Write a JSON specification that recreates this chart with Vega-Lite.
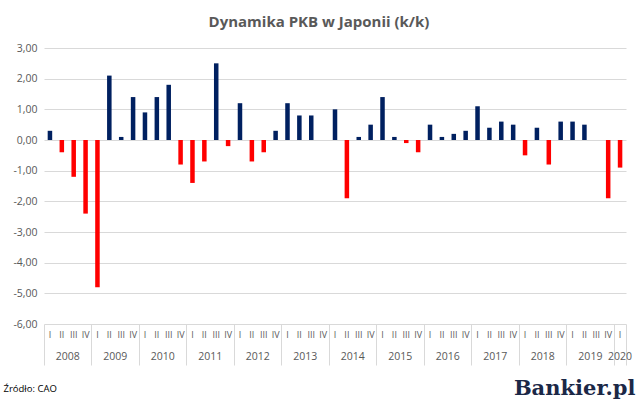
{
  "$schema": "https://vega.github.io/schema/vega-lite/v6.json",
  "width": 582,
  "height": 276,
  "autosize": {"type": "none"},
  "padding": {"left": 44, "top": 48, "right": 14, "bottom": 85},
  "background": "white",
  "config": {
    "view": {"stroke": null},
    "font": "Open Sans"
  },
  "title": {
    "text": "Dynamika PKB w Japonii (k/k)",
    "font": "Open Sans",
    "fontSize": 15,
    "fontWeight": "bold",
    "color": "#595959",
    "anchor": "middle",
    "frame": "group",
    "dx": -16,
    "offset": 13
  },
  "data": {
    "values": [
      {"q": "2008-1", "value": 0.3}, {"q": "2008-2", "value": -0.4}, {"q": "2008-3", "value": -1.2}, {"q": "2008-4", "value": -2.4},
      {"q": "2009-1", "value": -4.8}, {"q": "2009-2", "value": 2.1}, {"q": "2009-3", "value": 0.1}, {"q": "2009-4", "value": 1.4},
      {"q": "2010-1", "value": 0.9}, {"q": "2010-2", "value": 1.4}, {"q": "2010-3", "value": 1.8}, {"q": "2010-4", "value": -0.8},
      {"q": "2011-1", "value": -1.4}, {"q": "2011-2", "value": -0.7}, {"q": "2011-3", "value": 2.5}, {"q": "2011-4", "value": -0.2},
      {"q": "2012-1", "value": 1.2}, {"q": "2012-2", "value": -0.7}, {"q": "2012-3", "value": -0.4}, {"q": "2012-4", "value": 0.3},
      {"q": "2013-1", "value": 1.2}, {"q": "2013-2", "value": 0.8}, {"q": "2013-3", "value": 0.8}, {"q": "2013-4", "value": 0.0},
      {"q": "2014-1", "value": 1.0}, {"q": "2014-2", "value": -1.9}, {"q": "2014-3", "value": 0.1}, {"q": "2014-4", "value": 0.5},
      {"q": "2015-1", "value": 1.4}, {"q": "2015-2", "value": 0.1}, {"q": "2015-3", "value": -0.1}, {"q": "2015-4", "value": -0.4},
      {"q": "2016-1", "value": 0.5}, {"q": "2016-2", "value": 0.1}, {"q": "2016-3", "value": 0.2}, {"q": "2016-4", "value": 0.3},
      {"q": "2017-1", "value": 1.1}, {"q": "2017-2", "value": 0.4}, {"q": "2017-3", "value": 0.6}, {"q": "2017-4", "value": 0.5},
      {"q": "2018-1", "value": -0.5}, {"q": "2018-2", "value": 0.4}, {"q": "2018-3", "value": -0.8}, {"q": "2018-4", "value": 0.6},
      {"q": "2019-1", "value": 0.6}, {"q": "2019-2", "value": 0.5}, {"q": "2019-3", "value": 0.0}, {"q": "2019-4", "value": -1.9},
      {"q": "2020-1", "value": -0.9}
    ]
  },
  "layer": [
    {
      "mark": {"type": "bar", "width": {"band": 0.38}},
      "encoding": {
        "x": {
          "field": "q",
          "type": "nominal",
          "sort": "ascending",
          "scale": {"paddingInner": 0, "paddingOuter": 0},
          "axis": {
            "orient": "bottom",
            "title": "Bankier.pl",
            "titleFont": "DejaVu Serif",
            "titleFontSize": 21,
            "titleFontWeight": "bold",
            "titleColor": "#1b2847",
            "titleAnchor": "end",
            "titleAlign": "right",
            "titleBaseline": "middle",
            "titleX": 591,
            "titleY": 64,
            "bandPosition": 0,
            "domain": false,
            "grid": false,
            "ticks": true,
            "tickSize": 41,
            "tickColor": {"condition": {"test": "datum.value == '2008-1'", "value": "#d9d9d9"}, "value": "transparent"},
            "labelPadding": -35,
            "labelOffset": 0,
            "labelAngle": 0,
            "labelOverlap": false,
            "labelFontSize": 9,
            "labelColor": "#595959",
            "labelExpr": "substring(datum.value,5)=='1' ? 'I' : substring(datum.value,5)=='2' ? 'II' : substring(datum.value,5)=='3' ? 'III' : 'IV'"
          }
        },
        "y": {
          "field": "value",
          "type": "quantitative",
          "scale": {"domain": [-6, 3], "nice": false},
          "axis": {
            "title": null,
            "values": [-6, -5, -4, -3, -2, -1, 0, 1, 2, 3],
            "domain": false,
            "ticks": false,
            "labelPadding": 7,
            "labelFontSize": 10.5,
            "labelColor": "#595959",
            "gridColor": "#d9d9d9",
            "gridWidth": 1,
            "labelExpr": "replace(replace(format(datum.value, '.2f'), '.', ','), '\u2212', '-')"
          }
        },
        "color": {
          "condition": {"test": "datum.value >= 0", "value": "#002060"},
          "value": "#ff0000"
        }
      }
    },
    {
      "mark": {"type": "bar", "opacity": 0, "width": {"band": 0.38}},
      "encoding": {
        "x": {
          "field": "q",
          "type": "nominal",
          "sort": "ascending",
          "axis": {
            "orient": "bottom",
            "title": "Źródło: CAO",
            "titleFontSize": 9.5,
            "titleFontWeight": "normal",
            "titleColor": "#000000",
            "titleAnchor": "start",
            "titleAlign": "left",
            "titleBaseline": "middle",
            "titleX": -41,
            "titleY": 64,
            "bandPosition": 1,
            "domain": false,
            "grid": false,
            "ticks": true,
            "tickSize": 41,
            "tickColor": {"condition": {"test": "substring(datum.value,5)=='4' || datum.value=='2020-1'", "value": "#d9d9d9"}, "value": "transparent"},
            "labelPadding": -14,
            "labelOffset": {"condition": {"test": "datum.value == '2020-1'", "value": 0}, "value": 5.94},
            "labelAngle": 0,
            "labelOverlap": false,
            "labelFontSize": 10.5,
            "labelColor": "#595959",
            "labelExpr": "(substring(datum.value,5)=='2' || datum.value=='2020-1') ? substring(datum.value,0,4) : ''"
          }
        },
        "y": {
          "field": "value",
          "type": "quantitative",
          "axis": {
            "title": null,
            "values": [-6, -5, -4, -3, -2, -1, 0, 1, 2, 3],
            "domain": false,
            "ticks": false,
            "labelPadding": 7,
            "labelFontSize": 10.5,
            "labelColor": "#595959",
            "gridColor": "#d9d9d9",
            "gridWidth": 1,
            "labelExpr": "replace(replace(format(datum.value, '.2f'), '.', ','), '\u2212', '-')"
          }
        }
      }
    }
  ],
  "resolve": {"axis": {"x": "independent"}}
}
